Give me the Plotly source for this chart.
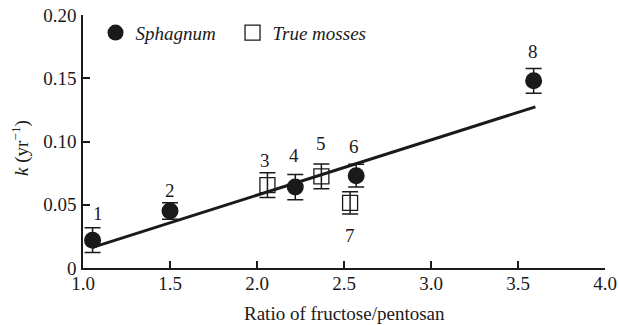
import plotly.graph_objects as go

# Sphagnum (filled circles)
sph_ids = ["1", "2", "4", "6", "8"]
sph_x = [1.055, 1.50, 2.22, 2.57, 3.59]
sph_y = [0.022, 0.045, 0.064, 0.073, 0.148]
sph_err = [0.0098, 0.0065, 0.0100, 0.0090, 0.0098]

# True mosses (open squares)
tm_ids = ["3", "5", "7"]
tm_x = [2.06, 2.37, 2.535]
tm_y = [0.0655, 0.0725, 0.0515]
tm_err = [0.0097, 0.0098, 0.0088]

# regression line
fit_x = [1.055, 3.60]
fit_y = [0.0163, 0.1274]

# point labels (id, x, y)
lab_ids = ["1", "2", "3", "4", "5", "6", "7", "8"]
lab_x = [1.085, 1.50, 2.045, 2.215, 2.37, 2.555, 2.535, 3.585]
lab_y = [0.0432, 0.061, 0.0853, 0.0893, 0.0985, 0.0958, 0.026, 0.171]

x_ticks = [1.0, 1.5, 2.0, 2.5, 3.0, 3.5, 4.0]
x_ticktext = ["1.0", "1.5", "2.0", "2.5", "3.0", "3.5", "4.0"]
y_ticks = [0, 0.05, 0.10, 0.15, 0.20]
y_ticktext = ["0", "0.05", "0.10", "0.15", "0.20"]

FONT = "Times New Roman, Liberation Serif, Tinos, serif"
FS = 19
INK = "#1a1a1a"

fig = go.Figure()

fig.add_trace(go.Scatter(
    x=fit_x, y=fit_y, mode="lines",
    line=dict(color=INK, width=3), showlegend=False, hoverinfo="skip"))

fig.add_trace(go.Scatter(
    x=sph_x, y=sph_y, mode="markers", name="<i>Sphagnum</i>",
    marker=dict(symbol="circle", size=17, color=INK, line=dict(width=0)),
    error_y=dict(type="data", array=sph_err, visible=True,
                 color=INK, thickness=1.5, width=8)))

fig.add_trace(go.Scatter(
    x=tm_x, y=tm_y, mode="markers", name="<i>True mosses</i>",
    marker=dict(symbol="square-open", size=15, color=INK, line=dict(width=1.3)),
    error_y=dict(type="data", array=tm_err, visible=True,
                 color=INK, thickness=1.5, width=8)))

for t, x, y in zip(lab_ids, lab_x, lab_y):
    fig.add_annotation(x=x, y=y, text=t, showarrow=False,
                       font=dict(family=FONT, size=FS, color=INK))

# axis titles
fig.add_annotation(xref="paper", yref="paper", x=0.5, y=-0.178,
                   text="Ratio of fructose/pentosan", showarrow=False,
                   xanchor="center", yanchor="middle",
                   font=dict(family=FONT, size=FS, color=INK))
fig.add_annotation(xref="paper", yref="paper", x=-0.121, y=0.474,
                   text="<i>k</i> (yr<sup>−1</sup>)", showarrow=False,
                   textangle=-90, xanchor="center", yanchor="middle",
                   font=dict(family=FONT, size=FS, color=INK))

axis_common = dict(showline=True, linecolor=INK, linewidth=1.5,
                   ticks="inside", ticklen=7, tickwidth=1.5, tickcolor=INK,
                   showgrid=False, zeroline=False, automargin=False,
                   tickfont=dict(family=FONT, size=FS, color=INK))

fig.update_xaxes(range=[1.0, 4.0], tickvals=x_ticks, ticktext=x_ticktext,
                 ticklabelstandoff=-3, **axis_common)
fig.update_yaxes(range=[0, 0.20], tickvals=y_ticks, ticktext=y_ticktext,
                 ticklabelstandoff=1, **axis_common)

fig.update_layout(
    width=619, height=325,
    margin=dict(l=83, r=14, t=15, b=57, autoexpand=False),
    paper_bgcolor="white", plot_bgcolor="white",
    font=dict(family=FONT, size=FS, color=INK),
    legend=dict(orientation="h", x=0.024, y=0.93, xanchor="left", yanchor="middle",
                bgcolor="rgba(0,0,0,0)", entrywidth=92,
                font=dict(family=FONT, size=FS, color=INK)),
)

fig.write_html("out.html",
               config={"displayModeBar": False},
               post_script="document.body.style.margin='0';")
